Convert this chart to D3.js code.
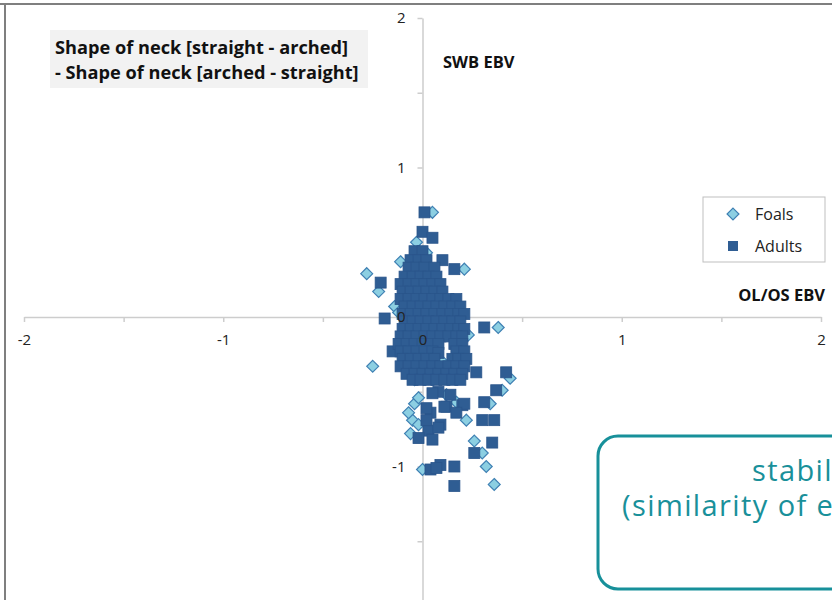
<!DOCTYPE html>
<html>
<head>
<meta charset="utf-8">
<script src="https://d3js.org/d3.v7.min.js"></script>
<style>
  body { margin: 0; background: #fff; }
  svg { display: block; }
  .tick-label text { font-family: "Open Sans", sans-serif; font-size: 15px; fill: #222; }
  .title { font-family: "Open Sans", sans-serif; font-weight: bold; font-size: 18.2px; fill: #111; }
  .axis-title { font-family: "Open Sans", sans-serif; font-weight: bold; font-size: 16.5px; fill: #111; }
  .legend text { font-family: "Open Sans", sans-serif; font-size: 16px; fill: #222; }
  .note { font-family: "Open Sans", sans-serif; font-size: 29px; letter-spacing: 1.4px; fill: #19909a; }
</style>
</head>
<body>
<script>
// EBV pairs [OL/OS EBV, SWB EBV]
var foals = [
  [0.05, 0.70], [-0.28, 0.29], [-0.11, 0.37], [-0.22, 0.17], [-0.14, 0.07],
  [0.21, 0.32], [0.38, -0.07], [-0.25, -0.33], [0.44, -0.41], [0.22, -0.69],
  [0.26, -0.83], [0.32, -1.00], [0.36, -1.12], [0.00, -1.02], [-0.04, -0.58],
  [-0.05, -0.69], [-0.06, -0.78], [0.17, -0.57], [0.02, 0.43], [0.00, 0.30],
  [0.04, 0.21], [0.07, 0.15], [-0.12, 0.03], [0.23, -0.12], [-0.04, -0.42],
  [0.09, -0.37], [0.12, -0.52], [-0.02, -0.54], [-0.07, -0.64], [-0.02, -0.72],
  [0.40, -0.49], [0.34, -0.58], [0.30, -0.91], [-0.08, 0.10], [0.12, -0.05],
  [0.06, -0.25], [-0.06, -0.20], [0.15, 0.00], [-0.03, 0.50], [0.10, -0.30]
];

var adults = [
  // outer points
  [0.01, 0.70], [0.00, 0.57], [0.05, 0.53], [-0.21, 0.23], [-0.19, -0.01],
  [0.10, 0.38], [0.16, 0.32], [0.31, -0.07], [-0.15, -0.23],
  [0.27, -0.37], [0.42, -0.37], [0.37, -0.49], [0.31, -0.57], [0.30, -0.69],
  [0.36, -0.69], [0.35, -0.84], [0.26, -0.91], [0.16, -1.00], [0.16, -1.13],
  [0.04, -1.02], [0.09, -0.99], [0.07, -1.01],
  [0.08, -0.50], [0.05, -0.51], [0.14, -0.52], [0.20, -0.59], [0.12, -0.60],
  [0.04, -0.64], [0.02, -0.61], [0.09, -0.72], [0.03, -0.76], [-0.02, -0.81],
  [0.05, -0.82], [0.02, -0.69], [0.11, -0.60], [0.21, -0.58], [0.17, -0.64],
  [0.08, -0.74],
  // dense core
  [-0.04, 0.44], [0.00, 0.44],
  [-0.06, 0.38], [-0.02, 0.38], [0.02, 0.38],
  [-0.07, 0.33], [-0.03, 0.33], [0.01, 0.33], [0.06, 0.33],
  [-0.09, 0.27], [-0.05, 0.27], [-0.01, 0.27], [0.03, 0.27], [0.07, 0.27],
  [-0.11, 0.22], [-0.07, 0.22], [-0.03, 0.22], [0.01, 0.22], [0.05, 0.22], [0.09, 0.22],
  [-0.10, 0.17], [-0.06, 0.17], [-0.02, 0.17], [0.02, 0.17], [0.06, 0.17], [0.10, 0.17],
  [-0.11, 0.12], [-0.07, 0.12], [-0.03, 0.12], [0.01, 0.12], [0.05, 0.12], [0.09, 0.12],
  [0.13, 0.12], [0.17, 0.12],
  [-0.09, 0.07], [-0.05, 0.07], [-0.01, 0.07], [0.03, 0.07], [0.07, 0.07], [0.11, 0.07],
  [0.15, 0.07], [0.19, 0.07],
  [-0.10, 0.02], [-0.06, 0.02], [-0.02, 0.02], [0.02, 0.02], [0.06, 0.02], [0.10, 0.02],
  [0.14, 0.02], [0.18, 0.02], [0.21, 0.02],
  [-0.09, -0.03], [-0.05, -0.03], [-0.01, -0.03], [0.03, -0.03], [0.07, -0.03],
  [0.11, -0.03], [0.15, -0.03], [0.19, -0.03],
  [-0.10, -0.08], [-0.06, -0.08], [-0.02, -0.08], [0.02, -0.08], [0.06, -0.08],
  [0.10, -0.08], [0.14, -0.08], [0.18, -0.08], [0.21, -0.08],
  [-0.11, -0.13], [-0.07, -0.13], [-0.03, -0.13], [0.01, -0.13], [0.05, -0.13],
  [0.09, -0.13], [0.13, -0.13], [0.17, -0.13], [0.20, -0.13],
  [-0.12, -0.18], [-0.08, -0.18], [-0.04, -0.18], [0.00, -0.18], [0.04, -0.18],
  [0.08, -0.18], [0.16, -0.18], [0.20, -0.18],
  [-0.11, -0.23], [-0.07, -0.23], [-0.03, -0.23], [0.01, -0.23], [0.05, -0.23],
  [0.08, -0.24], [0.17, -0.23], [0.21, -0.23],
  [-0.10, -0.28], [-0.06, -0.28], [-0.02, -0.28], [0.02, -0.28], [0.06, -0.28],
  [0.15, -0.28], [0.18, -0.28], [0.22, -0.28],
  [-0.11, -0.33], [-0.07, -0.33], [-0.03, -0.33], [0.01, -0.33], [0.05, -0.33],
  [0.09, -0.33], [0.13, -0.33], [0.17, -0.33], [0.21, -0.33],
  [-0.08, -0.38], [-0.04, -0.38], [0.00, -0.38], [0.04, -0.38], [0.08, -0.38],
  [0.12, -0.38], [0.16, -0.38], [0.20, -0.38],
  [-0.05, -0.42], [-0.01, -0.42], [0.03, -0.42], [0.07, -0.42], [0.11, -0.42],
  [0.15, -0.42], [0.19, -0.42]
];

var xTicks = [-2, -1.5, -1, -0.5, 0, 0.5, 1, 1.5, 2];
var yTicks = [-2, -1.5, -1, -0.5, 0, 0.5, 1, 1.5, 2];
var xLabels = [-2, -1, 0, 1, 2];
var yLabels = [-1, 0, 1, 2];

var width = 832, height = 600;

var svg = d3.select("body").append("svg")
    .attr("width", width)
    .attr("height", height);

var x = d3.scaleLinear().domain([-2, 2]).range([24, 821]);
var y = d3.scaleLinear().domain([-2, 2]).range([616, 18]);

// frame lines top + left
svg.append("line").attr("x1", 0).attr("x2", width).attr("y1", 4).attr("y2", 4)
    .attr("stroke", "#7f7f7f").attr("stroke-width", 2);
svg.append("line").attr("x1", 5).attr("x2", 5).attr("y1", 3).attr("y2", height)
    .attr("stroke", "#7f7f7f").attr("stroke-width", 2);

// axis lines and tick marks
var axisColor = "#cdcdcd";
svg.append("g")
    .attr("transform", "translate(0," + y(0) + ")")
    .call(d3.axisBottom(x).tickValues(xTicks).tickSize(5).tickSizeOuter(0).tickFormat(""));
svg.append("g")
    .attr("transform", "translate(" + x(0) + ",0)")
    .call(d3.axisLeft(y).tickValues(yTicks).tickSize(5).tickSizeOuter(0).tickFormat(""));
svg.selectAll(".domain, .tick line")
    .attr("stroke", axisColor).attr("stroke-width", 1.5);

// points
var diamond = d3.symbol().type(d3.symbolDiamond2).size(90);

svg.append("g").selectAll("path")
    .data(foals).enter().append("path")
    .attr("d", diamond)
    .attr("transform", function(d) { return "translate(" + x(d[0]) + "," + y(d[1]) + ")"; })
    .attr("fill", "#8ccfe2")
    .attr("stroke", "#3f80b3")
    .attr("stroke-width", 1.2);

svg.append("g").selectAll("rect")
    .data(adults).enter().append("rect")
    .attr("x", function(d) { return x(d[0]) - 5.5; })
    .attr("y", function(d) { return y(d[1]) - 5.5; })
    .attr("width", 11)
    .attr("height", 11)
    .attr("fill", "#2f5d93")
    .attr("stroke", "#2a558b")
    .attr("stroke-width", 0.8);

// tick labels on top of the markers
svg.append("g").attr("class", "tick-label")
    .attr("transform", "translate(0," + y(0) + ")")
    .call(d3.axisBottom(x).tickValues(xLabels).tickSize(0).tickPadding(17)
        .tickFormat(function(d) { return String(d); }));
svg.append("g").attr("class", "tick-label")
    .attr("transform", "translate(" + x(0) + ",0)")
    .call(d3.axisLeft(y).tickValues(yLabels).tickSize(0).tickPadding(17)
        .tickFormat(function(d) { return String(d); }));
svg.selectAll(".tick-label .domain").remove();
svg.selectAll(".tick-label text").attr("fill", "#222");

// title box
svg.append("rect").attr("x", 50).attr("y", 30).attr("width", 318).attr("height", 58)
    .attr("fill", "#f2f2f2");
svg.append("text").attr("class", "title").attr("x", 55).attr("y", 54)
    .text("Shape of neck [straight - arched]");
svg.append("text").attr("class", "title").attr("x", 55).attr("y", 79)
    .text("- Shape of neck [arched - straight]");

// axis titles
svg.append("text").attr("class", "axis-title").attr("x", 443).attr("y", 68).text("SWB EBV");
svg.append("text").attr("class", "axis-title").attr("x", 825).attr("y", 301)
    .attr("text-anchor", "end").text("OL/OS EBV");

// legend
var legend = svg.append("g").attr("class", "legend");
legend.append("rect").attr("x", 703).attr("y", 197).attr("width", 122).attr("height", 65)
    .attr("fill", "#fff").attr("stroke", "#bfbfbf");
legend.append("path").attr("d", diamond)
    .attr("transform", "translate(733,214)")
    .attr("fill", "#8ccfe2").attr("stroke", "#3f80b3").attr("stroke-width", 1.2);
legend.append("rect").attr("x", 728).attr("y", 241).attr("width", 10).attr("height", 10)
    .attr("fill", "#2f5d93");
legend.append("text").attr("x", 755).attr("y", 220).text("Foals");
legend.append("text").attr("x", 755).attr("y", 252).text("Adults");

// callout box (cut at the right edge)
svg.append("rect").attr("x", 598).attr("y", 436).attr("width", 300).attr("height", 153)
    .attr("rx", 20).attr("ry", 20)
    .attr("fill", "#fff").attr("stroke", "#17909a").attr("stroke-width", 3);
svg.append("text").attr("class", "note").attr("x", 752).attr("y", 481).text("stability");
svg.append("text").attr("class", "note").attr("x", 622).attr("y", 516).text("(similarity of estimates)");
</script>
</body>
</html>
